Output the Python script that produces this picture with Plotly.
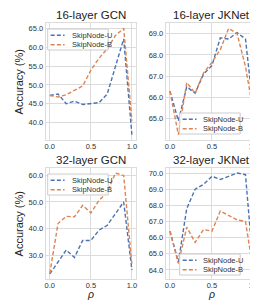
import plotly.graph_objects as go

rho = [0.0, 0.1, 0.2, 0.3, 0.4, 0.5, 0.6, 0.7, 0.8, 0.9, 1.0]

gcn16_u = [47.2, 47.6, 45.0, 45.7, 44.8, 45.1, 45.3, 47.6, 54.8, 62.2, 36.8]
gcn16_b = [47.2, 46.8, 47.4, 48.5, 49.7, 53.9, 57.1, 59.6, 63.1, 65.0, 40.5]

jk16_u = [66.3, 64.9, 66.5, 66.2, 67.1, 67.5, 68.8, 68.75, 69.05, 68.75, 65.2]
jk16_b = [66.3, 64.25, 66.7, 66.2, 67.15, 67.65, 68.25, 69.25, 69.0, 67.45, 65.2]

gcn32_u = [22.9, 27.5, 31.9, 29.1, 35.5, 35.5, 39.4, 41.25, 45.6, 50.0, 24.4]
gcn32_b = [23.1, 41.9, 44.6, 44.4, 48.75, 45.9, 50.6, 53.75, 60.9, 60.0, 26.25]

jk32_u = [66.4, 64.5, 67.8, 69.0, 69.3, 69.8, 69.6, 69.8, 70.0, 69.9, 63.75]
jk32_b = [66.4, 64.4, 66.65, 65.7, 66.5, 66.4, 67.65, 67.35, 67.1, 67.0, 63.75]

titles = ["16-layer GCN", "16-layer JKNet", "32-layer GCN", "32-layer JKNet"]
series = [(gcn16_u, gcn16_b), (jk16_u, jk16_b), (gcn32_u, gcn32_b), (jk32_u, jk32_b)]
yticks = [[40, 45, 50, 55, 60, 65], [65, 66, 67, 68, 69], [30, 40, 50, 60], [64, 65, 66, 67, 68, 69, 70]]
names = ["SkipNode-U", "SkipNode-B"]
colors = ["#4C72B0", "#DD8452"]

W, H = 258, 301
FONT = "Liberation Sans, Arial, sans-serif"


def px(x):
    return x / W


def py(y):
    return 1 - y / H


# panel frames in pixels: (left, right, top, bottom)
cols = [(37, 128), (158, 251)]
rows = [(15, 132), (160, 271)]
# legend box top-left corners in pixels
legbox = [(39, 21), (172, 105), (39, 166), (172, 246)]
LW, LH = 61, 21

fig = go.Figure()
grid = "#dcdcdc"
txt = "#333333"
annotations = []
shapes = []
DASH = "4px,2.2px"
for i, (u, b) in enumerate(series):
    r, c = divmod(i, 2)
    xl, xr = cols[c]
    yt, yb = rows[r]
    xd = (px(xl), px(xr))
    yd = (py(yb), py(yt))
    sfx = "" if i == 0 else str(i + 1)
    for s, (vals, name) in enumerate(zip((u, b), names)):
        fig.add_trace(go.Scatter(
            x=rho, y=vals, mode="lines", name=name,
            line=dict(color=colors[s], width=1.4, dash=DASH),
            xaxis="x" + sfx, yaxis="y" + sfx, showlegend=False))
    allv = u + b
    lo, hi = min(allv), max(allv)
    pad = (hi - lo) * 0.05
    fig.layout["xaxis" + sfx] = dict(
        domain=xd, anchor="y" + sfx, range=[-0.05, 1.05],
        tickvals=[0.0, 0.5, 1.0], ticktext=["0.0", "0.5", "1.0"],
        showgrid=True, gridcolor=grid, gridwidth=1, zeroline=False,
        showline=True, linecolor=grid, mirror=True, ticks="",
        ticklabelstandoff=-1,
        tickfont=dict(size=7.5, color=txt, family=FONT))
    fig.layout["yaxis" + sfx] = dict(
        domain=yd, anchor="x" + sfx, range=[lo - pad, hi + pad],
        tickvals=yticks[i], ticktext=["%.1f" % t for t in yticks[i]],
        showgrid=True, gridcolor=grid, gridwidth=1, zeroline=False,
        showline=True, linecolor=grid, mirror=True, ticks="",
        tickfont=dict(size=7.5, color=txt, family=FONT))
    annotations.append(dict(
        text=titles[i], x=(xd[0] + xd[1]) / 2, y=yd[1], xref="paper", yref="paper",
        xanchor="center", yanchor="bottom", yshift=0, showarrow=False,
        font=dict(size=11.5, color="#222222", family=FONT)))
    # legend box
    bx, by = legbox[i]
    shapes.append(dict(type="rect", xref="paper", yref="paper",
                       x0=px(bx), x1=px(bx + LW), y0=py(by + LH), y1=py(by),
                       line=dict(color="#cccccc", width=1),
                       fillcolor="rgba(255,255,255,0.85)", layer="above"))
    for s, name in enumerate(names):
        ry = by + 6.2 + s * 9.5
        shapes.append(dict(type="line", xref="paper", yref="paper",
                           x0=px(bx + 3), x1=px(bx + 17), y0=py(ry), y1=py(ry),
                           line=dict(color=colors[s], width=1.4, dash=DASH), layer="above"))
        annotations.append(dict(
            text=name, x=px(bx + 22), y=py(ry), xref="paper", yref="paper",
            xanchor="left", yanchor="middle", showarrow=False,
            font=dict(size=7.5, color=txt, family=FONT)))

for r in range(2):
    yt, yb = rows[r]
    annotations.append(dict(
        text="Accuracy (%)", x=px(10), y=py((yt + yb) / 2), xref="paper", yref="paper",
        textangle=-90, xanchor="center", yanchor="middle", showarrow=False,
        font=dict(size=11, color="#222222", family=FONT)))
for c in range(2):
    xl, xr = cols[c]
    annotations.append(dict(
        text="<i>ρ</i>", x=px((xl + xr) / 2), y=py(285.5), xref="paper", yref="paper",
        xanchor="center", yanchor="middle", showarrow=False, borderpad=0,
        font=dict(size=10.5, color="#222222", family=FONT)))

fig.update_layout(
    width=W, height=H, margin=dict(l=0, r=0, t=0, b=0),
    paper_bgcolor="white", plot_bgcolor="white", showlegend=False,
    annotations=annotations, shapes=shapes)

fig.write_html("out.html")
